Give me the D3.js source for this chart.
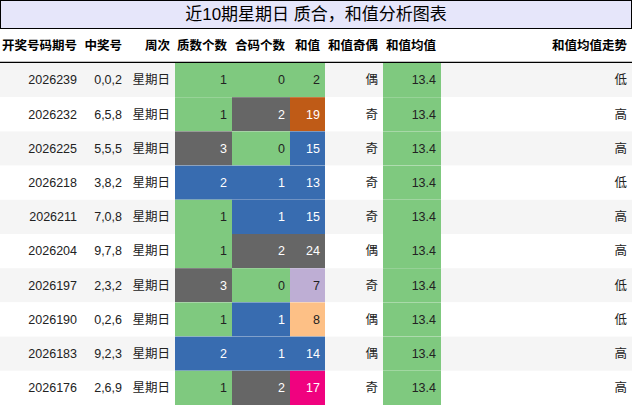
<!DOCTYPE html>
<html><head><meta charset="utf-8">
<script src="https://cdn.jsdelivr.net/npm/d3@7"></script>
<style>body{margin:0;background:#fff}</style>
</head><body><div id="chart"></div>
<script>
const title = "近10期星期日 质合，和值分析图表";
const headers = ["开奖号码期号", "中奖号", "周次", "质数个数", "合码个数", "和值", "和值奇偶", "和值均值", "和值均值走势"];
const issues = ["2026239", "2026232", "2026225", "2026218", "2026211", "2026204", "2026197", "2026190", "2026183", "2026176"];
const numbers = ["0,0,2", "6,5,8", "5,5,5", "3,8,2", "7,0,8", "9,7,8", "2,3,2", "0,2,6", "9,2,3", "2,6,9"];
const primeCounts = [1, 1, 3, 2, 1, 1, 3, 1, 2, 1];
const compositeCounts = [0, 2, 0, 1, 1, 2, 0, 1, 1, 2];
const sums = [2, 19, 15, 13, 15, 24, 7, 8, 14, 17];
const parity = ["偶", "奇", "奇", "奇", "奇", "偶", "奇", "偶", "偶", "奇"];
const means = [13.4, 13.4, 13.4, 13.4, 13.4, 13.4, 13.4, 13.4, 13.4, 13.4];
const trend = ["低", "高", "高", "低", "高", "高", "低", "低", "高", "高"];

const accent = {green: "#7fc97f", lav: "#beaed4", peach: "#fdc086", blue: "#386cb0", mag: "#f0027f", orange: "#bf5b17", gray: "#666666"};
const primeColor = d3.scaleOrdinal([1, 2, 3], [accent.green, accent.blue, accent.gray]);
const compColor = d3.scaleOrdinal([0, 1, 2], [accent.green, accent.blue, accent.gray]);
const sumColor = d3.scaleOrdinal([2, 7, 8, 13, 14, 15, 17, 19, 24],
  [accent.green, accent.lav, accent.peach, accent.blue, accent.blue, accent.blue, accent.mag, accent.orange, accent.gray]);
const dark = new Set([accent.blue, accent.gray, accent.orange, accent.mag]);

const W = 632, H = 405, titleH = 29, headH = 34;
const colEdges = [0, 82, 127, 175, 232, 290, 325, 383, 441, 632];
const font = "'Liberation Sans','Noto Sans CJK SC',sans-serif";

const svg = d3.select("#chart").append("svg").attr("width", W).attr("height", H);
const y = d3.scaleBand().domain(d3.range(10)).range([titleH + headH, H]);

svg.append("rect").attr("x", 0.5).attr("y", 0.5).attr("width", W - 1).attr("height", titleH - 1)
  .attr("fill", "#e6e6fa").attr("stroke", "#000");
svg.append("text").attr("x", W / 2).attr("y", titleH / 2 + 1).attr("text-anchor", "middle")
  .attr("dominant-baseline", "middle").attr("font-family", font).attr("font-size", 17).text(title);

svg.selectAll(".hd").data(headers).join("text")
  .attr("x", (d, i) => colEdges[i + 1] - 5).attr("y", titleH + headH / 2 + 1)
  .attr("text-anchor", "end").attr("dominant-baseline", "middle")
  .attr("font-family", font).attr("font-size", 12.5).attr("font-weight", "bold").text(d => d);
svg.append("line").attr("x1", 0).attr("x2", W).attr("y1", titleH + headH - 0.5).attr("y2", titleH + headH - 0.5)
  .attr("stroke", "#000").attr("stroke-width", 1.3);

const rows = d3.range(10).map(i => [
  [issues[i]], [numbers[i]], ["星期日"],
  [primeCounts[i], primeColor(primeCounts[i])],
  [compositeCounts[i], compColor(compositeCounts[i])],
  [sums[i], sumColor(sums[i])],
  [parity[i]],
  [means[i], accent.green],
  [trend[i]]
]);

const g = svg.selectAll(".row").data(rows).join("g").attr("transform", (d, i) => `translate(0,${y(i)})`);
g.append("rect").attr("width", W).attr("height", y.bandwidth()).attr("fill", (d, i) => i % 2 ? "#fff" : "#f5f5f5");
g.each(function(row) {
  const r = d3.select(this);
  row.forEach((c, j) => {
    if (c[1]) r.append("rect").attr("x", colEdges[j]).attr("width", colEdges[j + 1] - colEdges[j])
      .attr("height", y.bandwidth()).attr("fill", c[1]);
    r.append("text").attr("x", colEdges[j + 1] - 5).attr("y", y.bandwidth() / 2 + 1)
      .attr("text-anchor", "end").attr("dominant-baseline", "middle")
      .attr("font-family", font).attr("font-size", 12.5)
      .attr("fill", dark.has(c[1]) ? "#fff" : "#222").text(c[0]);
  });
});
</script></body></html>
